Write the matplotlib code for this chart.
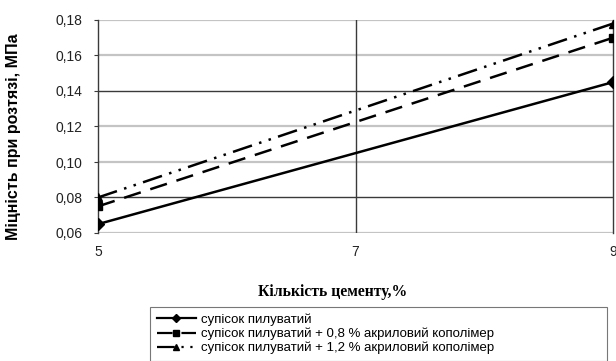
import matplotlib
matplotlib.use("Agg")
import matplotlib.pyplot as plt

x_vals = [5, 9]
s1 = [0.065, 0.145]
s2 = [0.075, 0.170]
s3 = [0.080, 0.178]
labels = ["супісок пилуватий",
          "супісок пилуватий + 0,8 % акриловий кополімер",
          "супісок пилуватий + 1,2 % акриловий кополімер"]
yticks = [0.06, 0.08, 0.10, 0.12, 0.14, 0.16, 0.18]
ytick_labels = ["0,06", "0,08", "0,10", "0,12", "0,14", "0,16", "0,18"]
xticks = [5, 7, 9]
dark_levels = [0.08, 0.14]

plt.rcParams['font.family'] = ['Liberation Sans', 'DejaVu Sans']

fig = plt.figure(figsize=(6.16, 3.61), dpi=100)
ax = fig.add_axes([98/616, 1-233/361, (613-98)/616, (233-20)/361])
ax.set_xlim(5, 9)
ax.set_ylim(0.06, 0.18)

for y in yticks:
    if y in dark_levels:
        ax.axhline(y, color='#3a3a3a', lw=1.0, zorder=1)
    else:
        ax.axhline(y, color='#c4c4c4', lw=1.6, zorder=1)
ax.axvline(7, color='#3a3a3a', lw=1.0, zorder=1)

ax.plot(x_vals, s1, color='black', lw=1.8, ls='-', marker='D', ms=6, label=labels[0], zorder=3)
ax.plot(x_vals, s2, color='black', lw=1.8, ls=(0, (7, 4)), marker='s', ms=6, label=labels[1], zorder=3)
ax.plot(x_vals, s3, color='black', lw=1.8, ls=(0, (8, 3, 1, 3, 1, 3)), marker='^', ms=6, label=labels[2], zorder=3)

ax.spines['top'].set_visible(False)
ax.spines['bottom'].set_visible(False)
ax.spines['left'].set_color('#3a3a3a')
ax.spines['right'].set_color('#3a3a3a')
ax.spines['left'].set_linewidth(1.0)
ax.spines['right'].set_linewidth(1.0)

ax.set_yticks(yticks)
ax.set_yticklabels(ytick_labels)
ax.set_xticks(xticks)
ax.set_xticklabels([str(v) for v in xticks])
ax.tick_params(axis='y', length=3, width=0.8, color='#3a3a3a', pad=8, labelsize=10, labelcolor='#222222')
ax.tick_params(axis='x', length=0, pad=9, labelsize=10, labelcolor='#222222')

ax.set_ylabel("Міцність при розтязі, МПа", fontsize=11.5, fontweight='bold')
ax.yaxis.set_label_coords(-0.150, 0.45)
fig.text(333/616, 1-292/361, "Кількість цементу,%", fontsize=11.3, fontweight='bold',
         family=['Liberation Serif', 'DejaVu Serif'], ha='center', va='center')

leg = fig.legend(loc='upper left', bbox_to_anchor=(150/616, -0.1, 457/616, 1-307/361+0.1),
                 mode='expand', fontsize=9.5, frameon=True, fancybox=False, edgecolor='#555555',
                 handlelength=3.0, handletextpad=0.4, labelspacing=0.12, borderpad=0.5,
                 borderaxespad=0)
leg.get_frame().set_linewidth(0.8)
for h in leg.legend_handles:
    h.set_markersize(4.5)
    h.set_linewidth(1.6)

fig.savefig("out.png", dpi=100)
